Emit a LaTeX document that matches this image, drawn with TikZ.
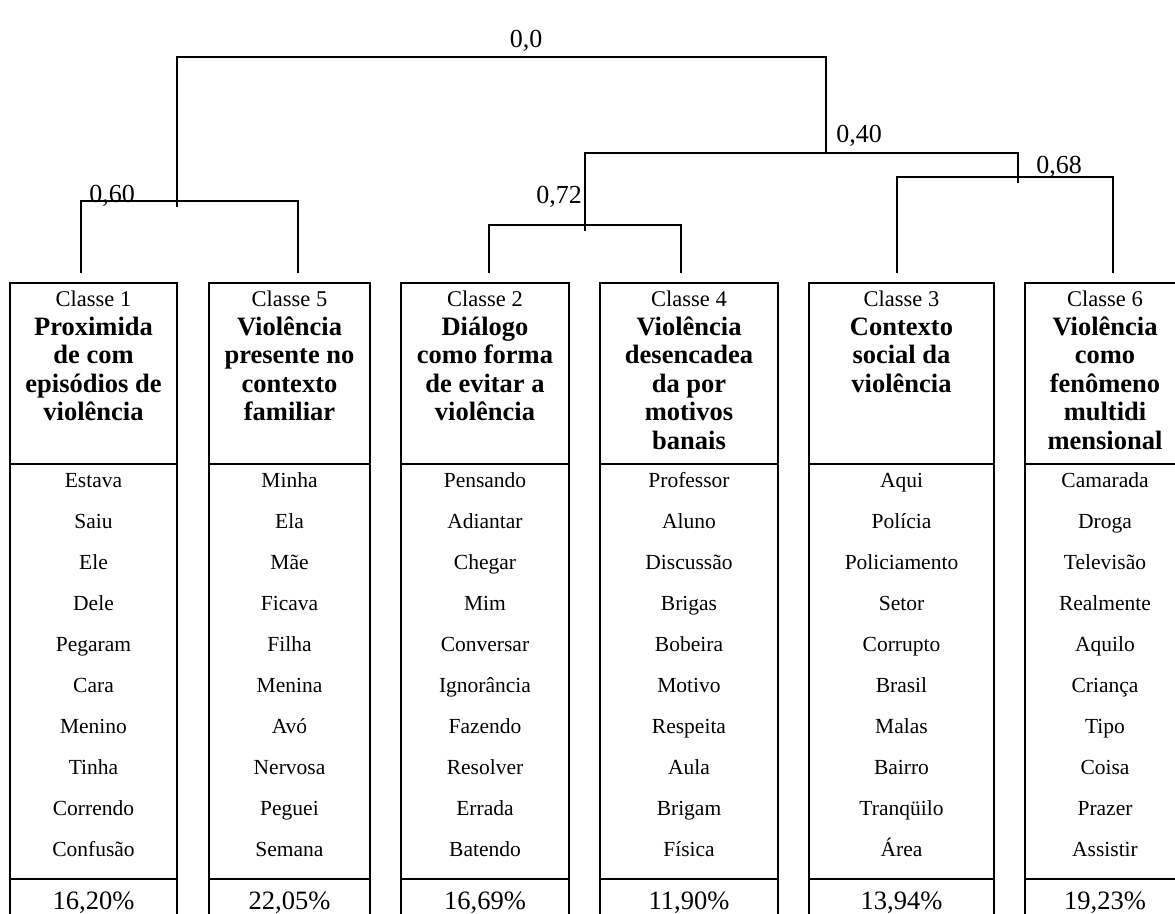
\documentclass[tikz,border=0pt]{standalone}
\usepackage{fontspec}
\setmainfont{Liberation Serif}
\usepackage{tikz}
\usetikzlibrary{positioning}

\tikzset{
  tree/.style={line width=1.4pt},
  frame/.style={line width=1.8pt},
  lab/.style={font=\fontsize{26}{28}\selectfont, anchor=base, inner sep=0pt},
  cls/.style={font=\fontsize{22.5}{26}\selectfont, anchor=base, inner sep=0pt},
  ttl/.style={font=\fontsize{26.5}{28.5}\selectfont\bfseries, align=center, anchor=north, inner sep=0pt},
  wrd/.style={font=\fontsize{21.5}{24}\selectfont, anchor=base, inner sep=0pt},
  pct/.style={font=\fontsize{26.5}{30}\selectfont, anchor=base, inner sep=0pt},
}

\begin{document}
\begin{tikzpicture}[x=1pt, y=-1pt]
    \useasboundingbox (0,0) rectangle (1175,913);
    \clip (0,0) rectangle (1175,913);

    % leaves of the tree
    \coordinate (l1) at (81,273);
    \coordinate (l5) at (298,273);
    \coordinate (l2) at (489,273);
    \coordinate (l4) at (681,273);
    \coordinate (l3) at (897,273);
    \coordinate (l6) at (1113,273);

    % joints
    \coordinate (j15) at (177,201);
    \coordinate (j24) at (585,225);
    \coordinate (j36) at (1018,177);
    \coordinate (j2436) at (826,153);
    \coordinate (j0) at (526,57);

    \draw[tree] (l1) |- (j15) -| (l5);
    \draw[tree] (l2) |- (j24) -| (l4);
    \draw[tree] (l3) |- (j36) -| (l6);
    \draw[tree] ([yshift=-6pt]j24) |- (j2436) -| ([yshift=-6pt]j36);
    \draw[tree] ([yshift=-6pt]j15) |- (j0) -| (j2436);

    \node[lab] (v0)  at (526,47)  {0,0};
    \node[lab] (v60) at (112,202) {0,60};
    \node[lab] (v72) at (559,203) {0,72};
    \node[lab] (v40) at (859,142) {0,40};
    \node[lab] (v68) at (1059,173) {0,68};

    % classes
    \foreach \xl/\xr/\num/\head/\words/\share in {
      10/177/1/{Proximida\\de com\\episódios de\\violência}/{Estava,Saiu,Ele,Dele,Pegaram,Cara,Menino,Tinha,Correndo,Confusão}/{16,20\%},
      209/370/5/{Violência\\presente no\\contexto\\familiar}/{Minha,Ela,Mãe,Ficava,Filha,Menina,Avó,Nervosa,Peguei,Semana}/{22,05\%},
      401/569/2/{Diálogo\\como forma\\de evitar a\\violência}/{Pensando,Adiantar,Chegar,Mim,Conversar,Ignorância,Fazendo,Resolver,Errada,Batendo}/{16,69\%},
      600/778/4/{Violência\\desencadea\\da por\\motivos\\banais}/{Professor,Aluno,Discussão,Brigas,Bobeira,Motivo,Respeita,Aula,Brigam,Física}/{11,90\%},
      809/994/3/{Contexto\\social da\\violência}/{Aqui,Polícia,Policiamento,Setor,Corrupto,Brasil,Malas,Bairro,Tranqüilo,Área}/{13,94\%},
      1025/1185/6/{Violência\\como\\fenômeno\\multidi\\mensional}/{Camarada,Droga,Televisão,Realmente,Aquilo,Criança,Tipo,Coisa,Prazer,Assistir}/{19,23\%}}
    {
      \draw[frame] (\xl,920) -- (\xl,283) -- (\xr,283) -- (\xr,920);
      \draw[frame] (\xl,464) -- (\xr,464) (\xl,879) -- (\xr,879);
      \node[cls] (cls\num) at ({(\xl+\xr)/2},306) {Classe \num};
      \node[ttl] (ttl\num) at ({(\xl+\xr)/2},315) {\strut\head};
      \foreach \w [count=\i] in \words
        \node[wrd] (w\num-\i) at ({(\xl+\xr)/2},{487+41*(\i-1)}) {\w};
      \node[pct] (pct\num) at ({(\xl+\xr)/2},909) {\share};
    }

\end{tikzpicture}
\end{document}
